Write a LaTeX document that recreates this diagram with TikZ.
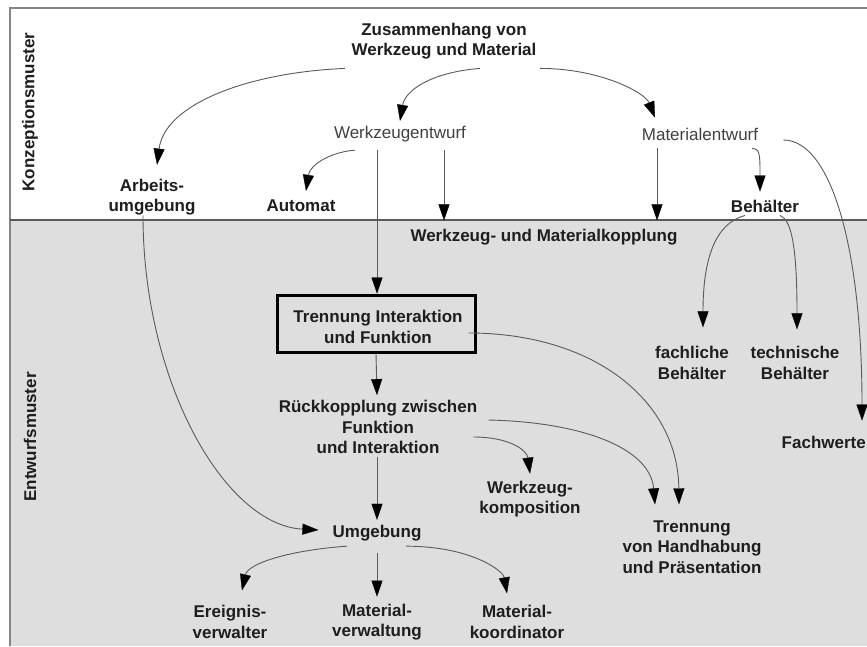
\documentclass[tikz,border=0pt]{standalone}
\usepackage{fontspec}
\setmainfont{Liberation Sans}
\usetikzlibrary{arrows.meta,calc}
\definecolor{panel}{HTML}{DEDEDE}
\definecolor{frameline}{HTML}{858585}
\definecolor{wire}{HTML}{5A5A5A}
\definecolor{ink}{HTML}{1E1E1E}
\begin{document}
\begin{tikzpicture}[x=1pt,y=-1pt,
  lbl/.style={font=\fontsize{17}{20.5}\selectfont\bfseries,text=ink,align=center,inner sep=0pt},
  lblthin/.style={font=\fontsize{17}{20.5}\selectfont,text=ink!85,align=center,inner sep=0pt},
  side/.style={font=\fontsize{17}{20}\selectfont\bfseries,text=ink,rotate=90,inner sep=0pt},
  keybox/.style={draw=black,line width=3pt,minimum width=198pt,minimum height=57pt,inner sep=0pt},
  link/.style={draw=wire,line width=0.9pt,-{Triangle[length=16pt,width=11pt,color=black,fill=black,line width=0.3pt]}}
]
\useasboundingbox (0,0) rectangle (867,646);
% frame and the two bands
\fill[white] (0,0) rectangle (867,646);
\fill[panel] (10,220) rectangle (867,646);
\draw[frameline,line width=1.6pt] (10,646) -- (10,8) -- (867,8);
\draw[wire,line width=2.5pt] (10,220) -- (867,220);

% band labels
\node[side] (konz) at (30,112) {Konzeptionsmuster};
\node[side] (entw) at (30,437) {Entwurfsmuster};

% nodes
\node[lbl] (zus) at (444,41) {Zusammenhang von\\Werkzeug und Material};
\node[lblthin] (wze) at (400,134) {Werkzeugentwurf};
\node[lblthin] (mae) at (700,134) {Materialentwurf};
\node[lbl] (arb) at (152,197) {Arbeits-\\umgebung};
\node[lbl] (aut) at (301,206) {Automat};
\node[lbl] (beh) at (765,206) {Behälter};
\node[lbl] (kop) at (544,237) {Werkzeug- und Materialkopplung};
\node[keybox] (box) at (376,323.5) {};
\node[lbl] (boxtext) at (378,327) {Trennung Interaktion\\und Funktion};
\node[lbl] (fbe) at (692,363) {fachliche\\Behälter};
\node[lbl] (tbe) at (795,363) {technische\\Behälter};
\node[lbl,anchor=east] (fach) at (866,442) {Fachwerte};
\node[lbl] (rue) at (378,427) {Rückkopplung zwischen\\Funktion\\und Interaktion};
\node[lbl] (wko) at (530,499) {Werkzeug-\\komposition};
\node[lbl] (tvh) at (692,547) {Trennung\\von Handhabung\\und Präsentation};
\node[lbl] (umg) at (377,533) {Umgebung};
\node[lbl] (erv) at (230,622) {Ereignis-\\verwalter};
\node[lbl] (mvw) at (377,622) {Material-\\verwaltung};
\node[lbl] (mko) at (517,622) {Material-\\koordinator};

% connectors of the concept band
\draw[link] ($(zus.south)+(-99,9)$) .. controls ($(zus.south)+(-195,13)$) and ($(arb.north)+(13,-75)$) .. ($(arb.north)+(5,-14)$);
\draw[link] ($(zus.south)+(36,9)$) .. controls ($(zus.south)+(-14,13)$) and ($(wze.north)+(5,-35)$) .. ($(wze.north)+(0,-5)$);
\draw[link] ($(zus.south)+(96,9)$) .. controls ($(zus.south)+(156,9)$) and ($(mae.north)+(-55,-35)$) .. ($(mae.north)+(-45,-10)$);
\draw[link] ($(wze.south)+(-45,8)$) .. controls ($(wze.south)+(-70,10)$) and ($(aut.north)+(9,-35)$) .. ($(aut.north)+(5,-9)$);
\draw[link] ($(wze.south)+(-23,8)$) -- ($(box.north)+(1,0)$);
\draw[link] ($(wze.south)+(44,8)$) -- ($(kop.north)+(-100,-8.5)$);
\draw[link] ($(mae.south)+(-43,8)$) -- ($(kop.north)+(113,-8.5)$);
\draw[link] ($(mae.south)+(52,8)$) .. controls ($(mae.south)+(60,8)$) and ($(beh.north)+(-5,-45)$) .. ($(beh.north)+(-5,-8)$);
\draw[link] ($(mae.east)+(25,6)$) .. controls ($(mae.east)+(72,6)$) and ($(fach.north east)+(-4,-190)$) .. ($(fach.north east)+(-4,-15)$);

% connectors of the design band
\draw[link] ($(beh.south)+(-20,3)$) .. controls ($(beh.south)+(-50,11)$) and ($(fbe.north)+(11,-87)$) .. ($(fbe.north)+(11,-19)$);
\draw[link] ($(beh.south)+(15,3)$) .. controls ($(beh.south)+(25,7)$) and ($(tbe.north)+(2,-107)$) .. ($(tbe.north)+(2,-17)$);
\draw[link] ($(arb.south)+(-9,0)$) .. controls ($(arb.south)+(-9,166)$) and ($(umg.west)+(-108,-8)$) .. ($(umg.west)+(-14,-3)$);
\draw[link] ($(box.east)+(-8,9.5)$) .. controls ($(box.east)+(117,9.5)$) and ($(tvh.north)+(-14,-120)$) .. ($(tvh.north)+(-13,-16)$);
\draw[link] (box.south) -- ($(rue.north)+(-1,-5)$);
\draw[link] ($(rue.east)+(11,-7)$) .. controls ($(rue.east)+(103,-5)$) and ($(tvh.north)+(-42,-73)$) .. ($(tvh.north)+(-37,-16)$);
\draw[link] ($(rue.east)+(-4,10)$) .. controls ($(rue.east)+(33,10)$) and ($(wko.north)+(-3,-30)$) .. ($(wko.north)+(0,-7)$);
\draw[link] ($(rue.south)+(-1,3)$) -- ($(umg.north)+(0,-5)$);
\draw[link] ($(umg.south)+(-30,5)$) .. controls ($(umg.south)+(-87,9)$) and ($(erv.north)+(18,-42)$) .. ($(erv.north)+(12,-15)$);
\draw[link] ($(umg.south)+(0,12)$) -- ($(mvw.north)+(0,-7)$);
\draw[link] ($(umg.south)+(29,5)$) .. controls ($(umg.south)+(93,5)$) and ($(mko.north)+(-14,-35)$) .. ($(mko.north)+(-10,-12)$);
\end{tikzpicture}
\end{document}
